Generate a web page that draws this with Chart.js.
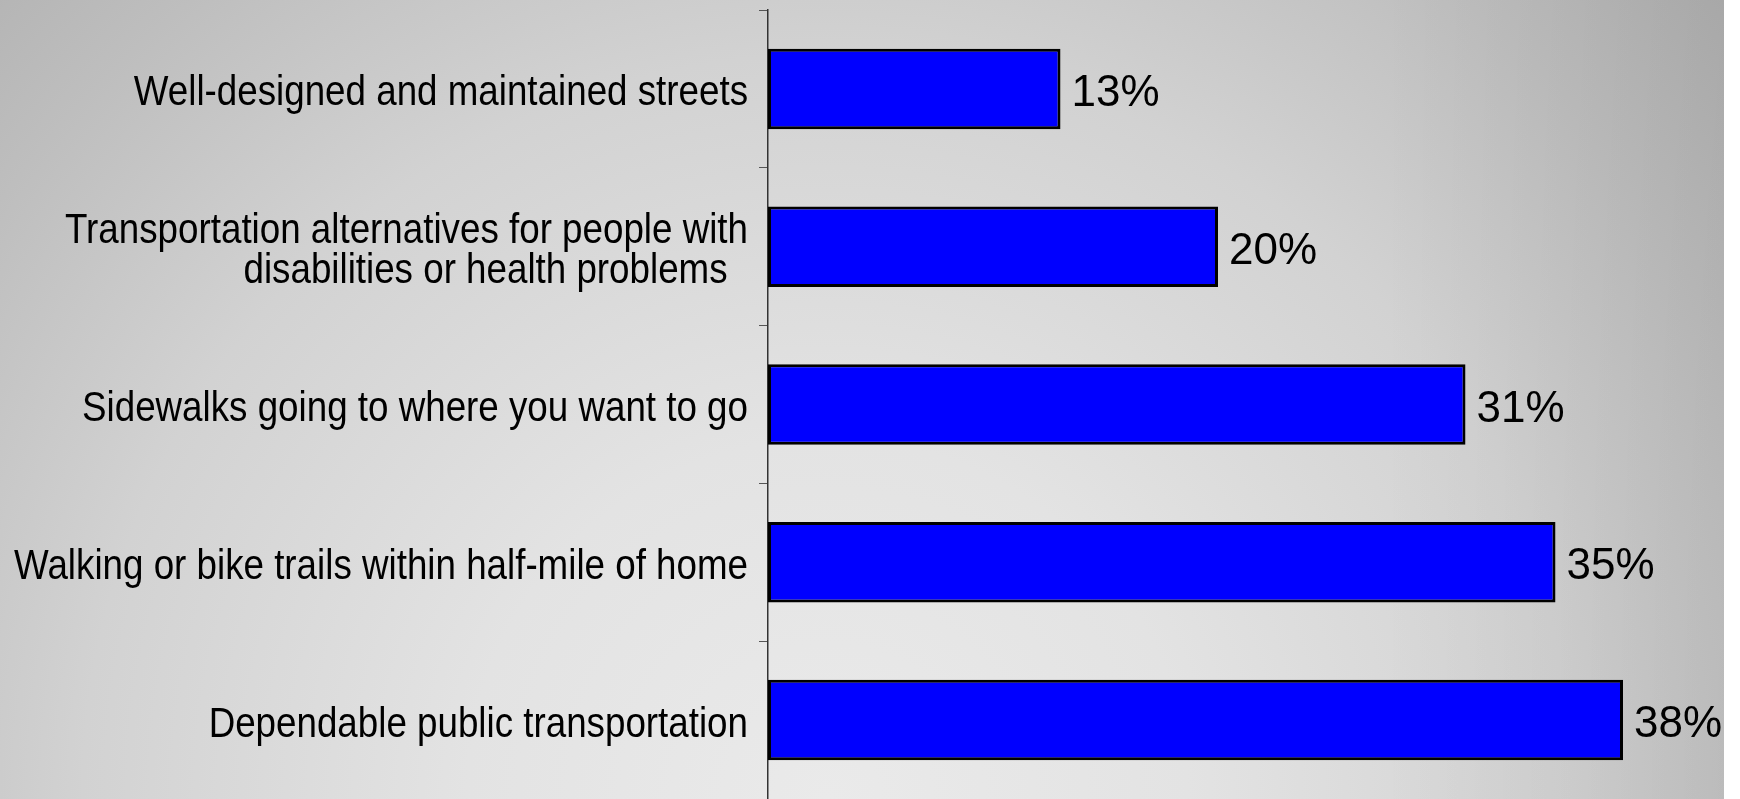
<!DOCTYPE html>
<html>
<head>
<meta charset="utf-8">
<script src="https://cdn.jsdelivr.net/npm/chart.js@4/dist/chart.umd.min.js"></script>
<style>
  html, body { margin: 0; padding: 0; background: #fff; overflow: hidden; }
  #wrap {
    position: relative;
    width: 1724px;
    height: 799px;
    background:
      linear-gradient(to right, rgba(0,0,0,0) 80%, rgba(0,0,0,0.06) 100%),
      radial-gradient(circle at 48% 100%, #eaeaea 0%, #e3e3e3 30%, #d2d2d2 62%, #bebebe 85%, #b2b2b2 100%);
  }
</style>
</head>
<body>
<div id="wrap"><canvas id="chart" width="1724" height="799"></canvas></div>
<script>
const categories = [
  'Well-designed and maintained streets',
  ['Transportation alternatives for people with', 'disabilities or health problems  '],
  'Sidewalks going to where you want to go',
  'Walking or bike trails within half-mile of home',
  'Dependable public transportation'
]
const values = [13, 20, 31, 35, 38]

const FONT = "'Liberation Sans', Arial, sans-serif"

// percent labels right of each bar
const valueLabels = {
  id: 'valueLabels',
  afterDatasetsDraw(chart) {
    const ctx = chart.ctx
    const meta = chart.getDatasetMeta(0)
    ctx.save()
    ctx.font = `44px ${FONT}`
    ctx.fillStyle = '#000'
    ctx.textAlign = 'left'
    ctx.textBaseline = 'middle'
    meta.data.forEach((bar, i) => {
      ctx.fillText(values[i] + '%', bar.x + 11, bar.y + 5)
    })
    ctx.restore()
  }
}

// category labels, drawn a bit condensed like the original slide
const categoryLabels = {
  id: 'categoryLabels',
  afterDraw(chart) {
    const ctx = chart.ctx
    const scale = chart.scales.y
    const x = scale.right - 20
    const lineH = 40
    ctx.save()
    ctx.font = `42px ${FONT}`
    ctx.fillStyle = '#000'
    ctx.textAlign = 'right'
    ctx.textBaseline = 'middle'
    categories.forEach((label, i) => {
      const lines = Array.isArray(label) ? label : [label]
      const y0 = scale.getPixelForValue(i) + 5 - (lines.length - 1) * lineH / 2
      lines.forEach((line, j) => {
        ctx.save()
        ctx.translate(x, y0 + j * lineH)
        ctx.scale(0.875, 1)
        ctx.fillText(line, 0, 0)
        ctx.restore()
      })
    })
    ctx.restore()
  }
}

const config = {
  type: 'bar',
  data: {
    labels: categories,
    datasets: [
      {
        data: values,
        backgroundColor: '#0000ff',
        borderColor: '#000',
        borderWidth: 3,
        borderSkipped: false,
        categoryPercentage: 1,
        barPercentage: 0.51
      }
    ]
  },
  options: {
    indexAxis: 'y',
    responsive: false,
    animation: false,
    layout: {
      padding: { top: 10, right: 11, bottom: 0, left: 0 }
    },
    plugins: {
      legend: { display: false },
      tooltip: { enabled: false }
    },
    scales: {
      x: {
        display: false,
        min: 0,
        max: 42
      },
      y: {
        afterFit: (axis) => {
          axis.width = 768
          axis.paddingTop = 0
          axis.paddingBottom = 0
        },
        grid: {
          drawOnChartArea: false,
          drawTicks: true,
          tickLength: 9,
          color: '#555',
          lineWidth: 1
        },
        border: {
          display: true,
          color: '#333',
          width: 1.5
        },
        ticks: {
          display: false
        }
      }
    }
  },
  plugins: [valueLabels, categoryLabels]
}

new Chart(document.getElementById('chart'), config)
</script>
</body>
</html>
